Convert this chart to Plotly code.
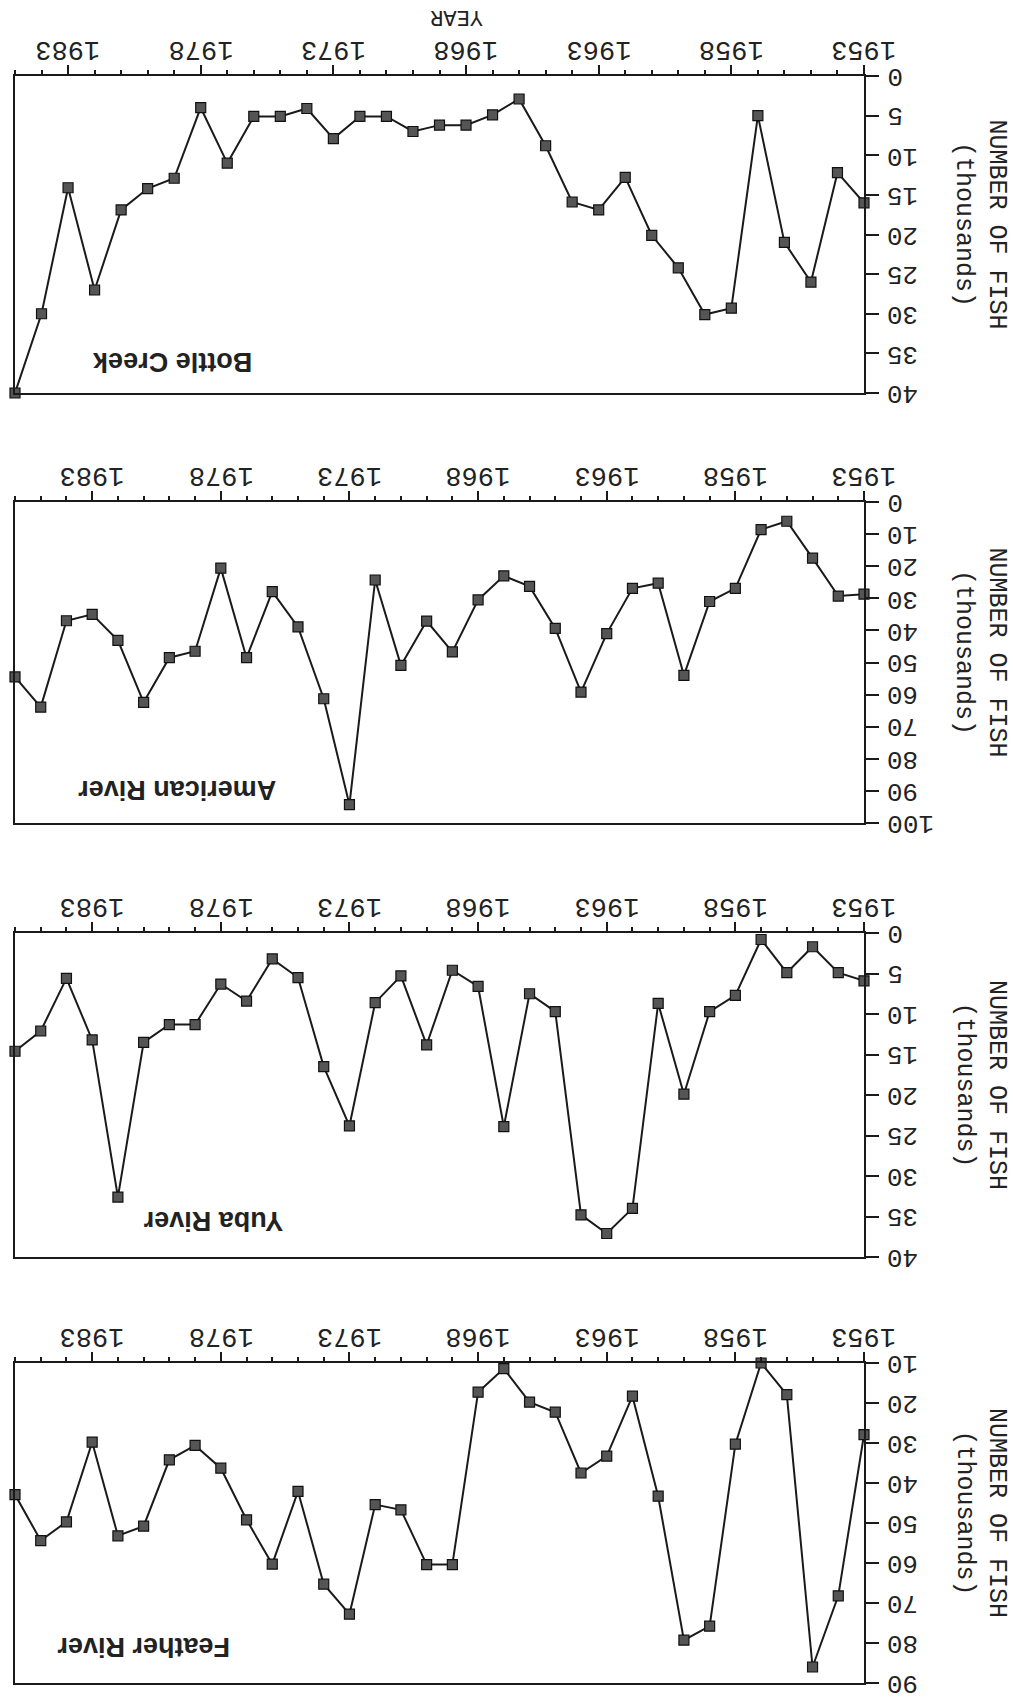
import plotly.graph_objects as go

# ---------------- data ----------------
years_bottle = list(range(1953, 1986))
years_other = list(range(1953, 1987))

bottle_creek = [16.0, 12.2, 26.0, 21.0, 5.0, 29.3, 30.1, 24.2, 20.1, 12.8, 16.9, 15.9,
                8.8, 2.9, 4.9, 6.2, 6.2, 7.0, 5.1, 5.1, 7.9, 4.1, 5.1, 5.1, 11.0, 4.0,
                12.9, 14.2, 16.9, 27.0, 14.1, 30.0, 40.0]
american_river = [28.7, 29.3, 17.5, 6.0, 8.6, 26.9, 31.0, 54.0, 25.3, 26.9, 41.0, 59.2,
                  39.4, 26.3, 23.0, 30.5, 46.7, 37.1, 50.9, 24.3, 94.3, 61.3, 38.9, 27.9,
                  48.5, 20.6, 46.5, 48.5, 62.4, 43.1, 35.0, 37.0, 63.9, 54.5]
yuba_river = [5.9, 4.9, 1.7, 4.9, 0.8, 7.7, 9.7, 19.9, 8.7, 34.0, 37.1, 34.8, 9.7, 7.5,
              23.9, 6.6, 4.6, 13.8, 5.3, 8.6, 23.8, 16.5, 5.5, 3.2, 8.4, 6.3, 11.3, 11.3,
              13.5, 32.6, 13.2, 5.6, 12.1, 14.6]
feather_river = [27.9, 68.2, 86.0, 17.9, 10.0, 30.3, 75.8, 79.3, 43.3, 18.3, 33.3, 37.5,
                 22.3, 19.8, 11.4, 17.3, 60.4, 60.4, 46.7, 45.4, 72.8, 65.3, 42.1, 60.3,
                 49.2, 36.3, 30.6, 34.2, 50.8, 53.2, 29.8, 49.7, 54.4, 42.9]

panel_names = ["Bottle Creek", "American River", "Yuba River", "Feather River"]
year_ticks = [1953, 1958, 1963, 1968, 1973, 1978, 1983]
year_labels = ["1953", "1958", "1963", "1968", "1973", "1978", "1983"]
fish_ticks_bottle = [0, 5, 10, 15, 20, 25, 30, 35, 40]
fish_ticks_american = [0, 10, 20, 30, 40, 50, 60, 70, 80, 90, 100]
fish_ticks_yuba = [0, 5, 10, 15, 20, 25, 30, 35, 40]
fish_ticks_feather = [10, 20, 30, 40, 50, 60, 70, 80, 90]

x_title = "YEAR"
y_title = "NUMBER OF FISH<br>(thousands)"

# ---------------- layout geometry (pixels of the 1013x1700 page) ----------------
W, H = 1013, 1700
x_left_px, x_right_px = 15, 864
panel_px = [(76, 393), (502, 823), (933, 1257), (1363, 1683)]
# panel-name centre as fraction of each plot area (from left, from top)
label_pos = [(0.185, 0.90), (0.191, 0.897), (0.234, 0.889), (0.152, 0.888)]

series = [
    (years_bottle, bottle_creek, fish_ticks_bottle),
    (years_other, american_river, fish_ticks_american),
    (years_other, yuba_river, fish_ticks_yuba),
    (years_other, feather_river, fish_ticks_feather),
]

mono = "Liberation Mono, Courier New, monospace"
ink = "#1a1a1a"
txt = "#222222"

fig = go.Figure()
annotations = []

for i, ((yrs, vals, fticks), (top, bot)) in enumerate(zip(series, panel_px)):
    n = i + 1
    xa = "x" if n == 1 else f"x{n}"
    ya = "y" if n == 1 else f"y{n}"
    fig.add_trace(go.Scatter(
        x=yrs, y=vals, mode="lines+markers", xaxis=xa, yaxis=ya,
        line=dict(color=ink, width=2),
        marker=dict(symbol="square", size=10, color="#555555",
                    line=dict(color="#111111", width=1.2)),
        cliponaxis=False, showlegend=False, hoverinfo="x+y",
    ))
    dom_x = [x_left_px / W, x_right_px / W]
    dom_y = [1 - bot / H, 1 - top / H]
    xkey = "xaxis" if n == 1 else f"xaxis{n}"
    ykey = "yaxis" if n == 1 else f"yaxis{n}"
    fig.update_layout(**{
        xkey: dict(
            domain=dom_x, anchor=ya, side="top",
            range=[max(yrs), min(yrs)],
            tickmode="array", tickvals=year_ticks, showticklabels=False,
            ticks="outside", ticklen=9, tickwidth=2, tickcolor=ink,
            minor=dict(tickmode="linear", tick0=1953, dtick=1, ticks="outside",
                       ticklen=4, tickwidth=1.5, tickcolor=ink),
            showline=True, linewidth=2, linecolor=ink, mirror=True,
            showgrid=False, zeroline=False,
        ),
        ykey: dict(
            domain=dom_y, anchor=xa, side="right",
            range=[max(fticks), min(fticks)],
            tickmode="array", tickvals=fticks, showticklabels=False,
            ticks="outside", ticklen=13, tickwidth=2, tickcolor=ink,
            showline=True, linewidth=2, linecolor=ink, mirror=True,
            showgrid=False, zeroline=False,
        ),
    })
    # year tick labels (upside down, above the axis)
    for yv, yl in zip(year_ticks, year_labels):
        annotations.append(dict(
            text=yl, xref=xa, yref="paper", x=yv, y=1 - (top - 27) / H,
            xanchor="center", yanchor="middle", showarrow=False, textangle=180,
            font=dict(family=mono, size=27, color=txt),
        ))
    # fish tick labels (upside down, right of the axis)
    for fv in fticks:
        annotations.append(dict(
            text=str(fv), xref="paper", yref=ya, x=885 / W, y=fv,
            xanchor="left", yanchor="middle", showarrow=False, textangle=180,
            font=dict(family=mono, size=26, color=txt),
        ))
    # panel name (upside down)
    annotations.append(dict(
        text=f"<b>{panel_names[i]}</b>", xref=f"{xa} domain", yref=f"{ya} domain",
        x=label_pos[i][0], y=1 - label_pos[i][1], xanchor="center", yanchor="middle",
        showarrow=False, textangle=180,
        font=dict(family="Liberation Sans, Arial, sans-serif", size=27, color=txt),
    ))
    # y title
    annotations.append(dict(
        text=y_title, xref="paper", yref="paper",
        x=980 / W, y=1 - ((top + bot) / 2 - 10) / H, showarrow=False, textangle=90,
        font=dict(family=mono, size=25, color=txt),
        xanchor="center", yanchor="middle",
    ))

annotations.append(dict(
    text=x_title, xref="paper", yref="paper", x=457 / W, y=1 - 17 / H,
    xanchor="center", yanchor="middle",
    showarrow=False, textangle=180,
    font=dict(family=mono, size=22, color=txt),
))

fig.update_layout(
    width=W, height=H,
    margin=dict(l=0, r=0, t=0, b=0),
    paper_bgcolor="white", plot_bgcolor="white",
    annotations=annotations,
    showlegend=False,
)

fig.write_html("out.html", config={"displayModeBar": False},
               post_script="document.body.style.margin='0px';")
